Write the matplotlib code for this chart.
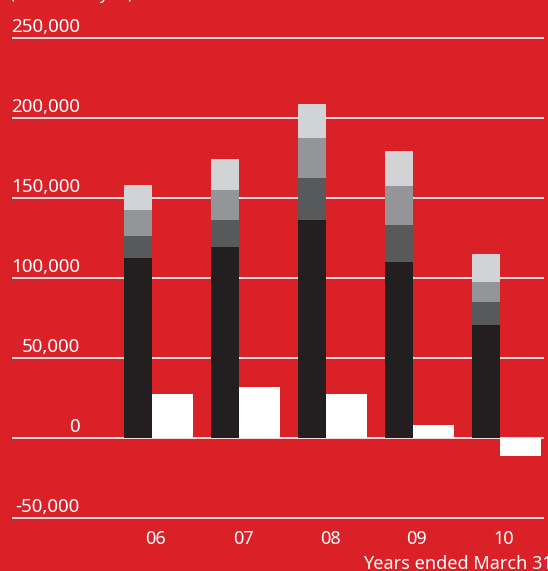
import matplotlib
matplotlib.use("Agg")
import matplotlib.pyplot as plt
import matplotlib.transforms as mtransforms
import numpy as np

years = ["06", "07", "08", "09", "10"]
seg1 = [112500, 119400, 136300, 110000, 70600]   # black
seg2 = [13800, 16900, 26200, 23100, 14400]       # dark gray
seg3 = [16200, 18700, 25000, 24400, 12500]       # mid gray
seg4 = [15600, 19400, 21300, 21900, 17500]       # light gray
other = [27500, 31900, 27500, 8100, -11300]      # white bars
yticks = [250000, 200000, 150000, 100000, 50000, 0, -50000]
ytick_labels = ["250,000", "200,000", "150,000", "100,000", "50,000", "0", "-50,000"]

RED = "#DA2128"
colors = ["#231F20", "#58595B", "#939598", "#D1D3D4"]

plt.rcParams['font.family'] = ['Noto Sans', 'DejaVu Sans']

W, H = 548, 571
fig = plt.figure(figsize=(W / 100, H / 100), dpi=100, facecolor=RED)
ax = fig.add_axes([12 / W, 1 - 530 / H, (544 - 12) / W, (530 - 20) / H])
ax.set_facecolor(RED)
ax.set_xlim(-1.655, 4.46)
ax.set_ylim(-57500, 261250)

for y in yticks:
    ax.axhline(y, color="white", lw=1.2, zorder=1)

x = np.arange(len(years))
bw = 0.322
ww = 0.471
bx = x - 0.207
wx = x + 0.19
bottom = np.zeros(len(years))
for seg, c in zip([seg1, seg2, seg3, seg4], colors):
    ax.bar(bx, seg, bw, bottom=bottom, color=c, zorder=2, linewidth=0)
    bottom += np.array(seg)
ax.bar(wx, other, ww, color="white", zorder=2, linewidth=0)

trans = mtransforms.blended_transform_factory(ax.transAxes, ax.transData)
for y, lab in zip(yticks, ytick_labels):
    ax.annotate(lab, xy=((80 - 12) / 532, y), xycoords=trans,
                xytext=(0, 4), textcoords="offset points",
                ha="right", va="baseline", color="white", fontsize=13.5)

for xi, lab in zip(x, years):
    ax.annotate(lab, xy=(xi, -50000), xycoords="data", xytext=(0, -9),
                textcoords="offset points", ha="center", va="top",
                color="white", fontsize=13, annotation_clip=False)

fig.text(363 / W, 1 - 569 / H, "Years ended March 31", ha="left", va="baseline",
         color="white", fontsize=13)
fig.text(10 / W, 1 + 1 / H, "(Millions of yen)", ha="left", va="baseline",
         color="white", fontsize=12)

for s in ax.spines.values():
    s.set_visible(False)
ax.set_xticks([])
ax.set_yticks([])

fig.savefig("out.png", dpi=100, facecolor=RED)
